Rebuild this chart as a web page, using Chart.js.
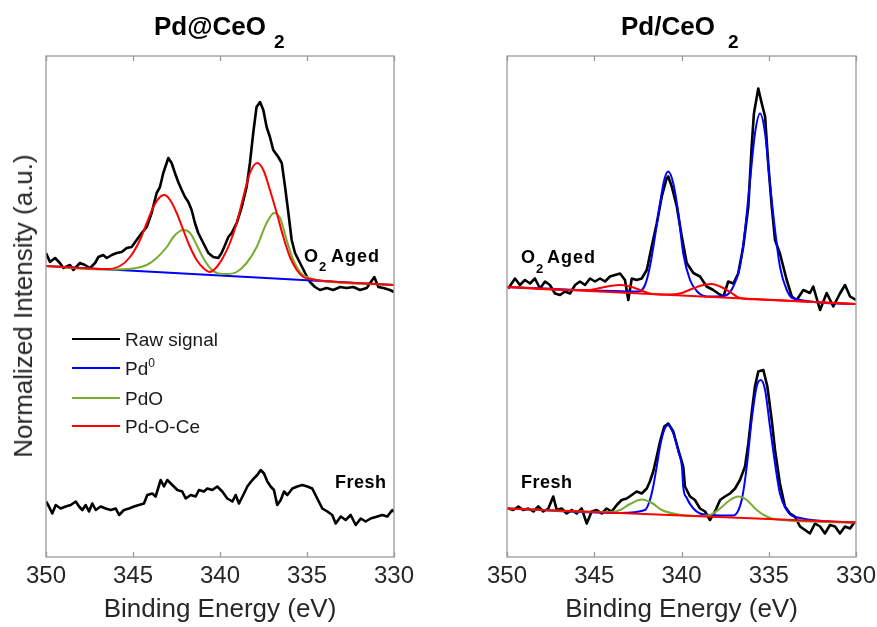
<!DOCTYPE html>
<html><head><meta charset="utf-8">
<script src="https://cdn.jsdelivr.net/npm/chart.js@4.4.1/dist/chart.umd.min.js"></script>
<style>
body{margin:0;background:#fff;width:877px;height:627px;position:relative;overflow:hidden;font-family:"Liberation Sans",Arial,sans-serif;}
canvas{position:absolute;top:0;}
.t{position:absolute;white-space:nowrap;line-height:1;color:#000;}
.b{font-weight:bold;}
.lg{position:absolute;left:72px;width:48px;height:2.5px;}
</style></head><body>
<canvas id="cl" width="440" height="627" style="left:0"></canvas>
<canvas id="cr" width="437" height="627" style="left:440px"></canvas>

<div class="t b" style="left:154px;top:13px;font-size:26px">Pd@CeO</div>
<div class="t b" style="left:274px;top:32px;font-size:19px">2</div>
<div class="t b" style="left:621px;top:13px;font-size:26px">Pd/CeO</div>
<div class="t b" style="left:728px;top:32px;font-size:19px">2</div>

<div class="t" style="left:23px;top:306px;font-size:26px;color:#262626;transform:translate(-50%,-50%) rotate(-90deg)">Normalized Intensity (a.u.)</div>

<div class="t b" style="left:304px;top:247px;font-size:18px">O</div>
<div class="t b" style="left:319px;top:260px;font-size:13px">2</div>
<div class="t b" style="left:331px;top:247px;font-size:18px;letter-spacing:1px">Aged</div>
<div class="t b" style="left:521px;top:248px;font-size:18px">O</div>
<div class="t b" style="left:536px;top:262px;font-size:13px">2</div>
<div class="t b" style="left:547px;top:248px;font-size:18px;letter-spacing:1px">Aged</div>
<div class="t b" style="left:335px;top:473px;font-size:18px;letter-spacing:0.5px">Fresh</div>
<div class="t b" style="left:521px;top:473px;font-size:18px;letter-spacing:0.5px">Fresh</div>

<div class="lg" style="top:337.75px;background:#000"></div>
<div class="lg" style="top:367px;height:2px;background:#0000ff"></div>
<div class="lg" style="top:397px;height:2px;background:#77ac30"></div>
<div class="lg" style="top:425px;height:2px;background:#ff0000"></div>
<div class="t" style="left:125px;top:330px;font-size:19px;color:#1a1a1a">Raw signal</div>
<div class="t" style="left:125px;top:359px;font-size:19px;color:#1a1a1a">Pd<span style="font-size:12px;position:relative;top:-8px">0</span></div>
<div class="t" style="left:125px;top:389px;font-size:19px;color:#1a1a1a">PdO</div>
<div class="t" style="left:125px;top:417px;font-size:19px;color:#1a1a1a">Pd-O-Ce</div>

<script>
// ---- axis ticks ----
const tickValues = [350, 345, 340, 335, 330];
const xTitle = 'Binding Energy (eV)';

// ---- Pd@CeO2 (left) : [binding energy eV, intensity a.u.] ----
const leftAgedRaw = [[350.00,60.8],[349.77,59.0],[349.48,59.8],[349.20,58.8],[349.00,57.8],[348.62,58.4],[348.43,57.4],[348.05,58.8],[347.76,58.4],[347.47,57.8],[347.18,58.8],[346.99,60.0],[346.71,60.4],[346.51,59.8],[346.22,60.4],[345.94,60.8],[345.65,61.0],[345.36,61.8],[345.08,62.0],[344.79,63.4],[344.50,64.8],[344.21,66.0],[343.93,68.8],[343.64,72.8],[343.45,74.0],[343.26,76.8],[342.97,79.8],[342.78,78.8],[342.59,76.8],[342.40,75.0],[342.20,73.4],[342.01,72.0],[341.82,71.0],[341.63,69.4],[341.44,66.8],[341.25,64.8],[340.96,62.8],[340.67,60.8],[340.39,60.0],[340.10,59.8],[339.91,60.8],[339.71,62.4],[339.52,64.0],[339.33,64.8],[339.04,66.8],[338.75,70.0],[338.47,74.0],[338.28,78.8],[338.09,84.8],[337.90,90.0],[337.70,91.0],[337.51,89.4],[337.32,86.0],[337.13,84.0],[336.94,81.4],[336.65,80.0],[336.45,78.8],[336.26,74.0],[336.07,68.8],[335.88,63.4],[335.69,60.8],[335.40,58.8],[335.11,56.8],[334.83,55.0],[334.54,54.0],[334.25,53.4],[333.87,53.8],[333.49,53.4],[333.10,54.0],[332.72,53.8],[332.34,54.0],[331.95,53.4],[331.57,53.8],[331.13,56.0],[330.90,54.0],[330.61,53.8],[330.23,53.4],[330.00,53.0]];
const leftAgedPd0 = [[350.00,58.2],[340.00,56.3],[330.00,54.4]];
const leftAgedPdO = [[350.00,58.2],[346.51,57.5],[344.98,57.7],[344.21,58.4],[343.64,59.8],[343.06,62.0],[342.68,64.0],[342.30,65.2],[342.07,65.4],[341.72,64.8],[341.34,62.4],[340.96,59.8],[340.57,57.8],[340.19,56.8],[339.61,56.6],[339.04,57.0],[338.47,58.8],[337.89,62.0],[337.32,66.8],[336.88,68.8],[336.55,67.8],[336.17,63.4],[335.79,59.4],[335.40,57.0],[335.02,56.0],[334.44,55.4],[330.00,54.4]];
const leftAgedPdOCe = [[350.00,58.2],[346.51,57.6],[345.75,58.2],[345.17,60.0],[344.60,63.4],[344.21,66.8],[343.83,70.0],[343.45,72.0],[343.20,72.4],[342.87,71.4],[342.49,68.8],[342.11,65.4],[341.72,62.0],[341.34,59.4],[340.96,57.8],[340.57,57.0],[340.19,58.0],[339.81,60.0],[339.43,62.8],[339.04,66.8],[338.66,72.0],[338.28,76.8],[337.86,78.8],[337.51,77.4],[337.13,73.4],[336.74,68.8],[336.36,64.0],[335.98,60.0],[335.59,57.4],[335.21,56.0],[334.83,55.6],[334.25,55.3],[330.00,54.4]];
const leftFreshRaw = [[350.00,11.1],[349.83,10.1],[349.64,8.7],[349.44,10.4],[349.16,9.7],[348.87,10.1],[348.58,10.4],[348.29,11.1],[348.10,10.1],[347.91,9.4],[347.72,10.4],[347.53,9.1],[347.34,10.7],[347.14,9.4],[346.86,10.1],[346.57,9.7],[346.28,9.4],[345.99,9.7],[345.80,8.4],[345.52,9.4],[345.23,9.7],[344.94,10.1],[344.66,10.4],[344.37,10.7],[344.18,12.4],[343.89,12.7],[343.70,12.1],[343.41,15.4],[343.22,14.1],[343.03,15.4],[342.74,14.4],[342.45,13.4],[342.17,13.1],[341.97,11.7],[341.68,12.4],[341.40,12.1],[341.21,13.4],[340.92,13.1],[340.73,13.7],[340.44,13.4],[340.16,14.1],[339.87,13.1],[339.58,11.7],[339.29,11.1],[339.10,12.4],[338.91,10.7],[338.62,12.7],[338.43,14.1],[338.14,15.4],[337.86,16.4],[337.66,17.4],[337.47,16.7],[337.28,15.1],[337.09,14.1],[336.90,13.4],[336.71,10.4],[336.51,11.4],[336.32,13.1],[336.13,12.4],[335.84,13.7],[335.56,14.1],[335.27,14.4],[334.98,14.1],[334.70,13.7],[334.41,11.7],[334.12,9.7],[333.83,9.1],[333.55,8.4],[333.35,6.7],[333.06,8.1],[332.78,7.4],[332.49,8.4],[332.20,6.4],[331.91,7.7],[331.63,7.1],[331.34,7.7],[330.96,8.1],[330.67,8.4],[330.38,8.1],[330.10,9.4],[330.00,9.0]];

// ---- Pd/CeO2 (right) ----
const rightAgedRaw = [[349.93,53.7],[349.54,55.7],[349.26,54.4],[348.97,55.4],[348.68,54.7],[348.40,55.7],[348.11,53.7],[347.82,55.1],[347.54,54.4],[347.25,52.7],[346.96,52.4],[346.68,53.1],[346.39,52.7],[346.10,54.4],[345.82,55.1],[345.53,54.4],[345.24,55.7],[344.96,55.1],[344.67,55.7],[344.38,55.1],[344.10,56.1],[343.81,56.4],[343.52,56.7],[343.24,55.4],[343.05,51.4],[342.85,55.7],[342.57,55.4],[342.28,55.7],[341.99,57.4],[341.71,62.1],[341.42,66.7],[341.13,72.1],[340.85,75.7],[340.76,76.1],[340.56,74.1],[340.27,70.1],[339.99,64.2],[339.70,58.8],[339.32,56.8],[338.94,56.1],[338.56,54.1],[338.18,53.4],[337.89,52.7],[337.60,52.1],[337.32,55.1],[337.03,54.7],[336.75,56.7],[336.46,62.1],[336.17,70.1],[335.98,82.1],[335.85,88.7],[335.60,93.7],[335.40,90.7],[335.21,88.1],[335.03,78.7],[334.83,70.1],[334.64,63.4],[334.36,60.7],[333.97,55.4],[333.68,52.1],[333.40,51.4],[333.02,53.4],[332.64,52.8],[332.45,54.1],[332.06,49.4],[331.68,52.8],[331.30,50.1],[330.92,52.7],[330.63,54.4],[330.34,52.1],[330.00,51.4]];
const rightAgedPd0 = [[350.00,54.0],[342.48,53.1],[342.09,54.4],[341.81,58.1],[341.52,64.1],[341.23,70.7],[340.99,75.4],[340.76,77.1],[340.47,74.7],[340.18,68.7],[339.90,60.7],[339.51,55.4],[339.13,53.2],[338.56,52.1],[337.98,52.1],[337.41,52.4],[337.03,54.1],[336.65,58.1],[336.36,65.4],[336.07,75.4],[335.79,84.7],[335.50,88.7],[335.21,84.7],[334.93,74.7],[334.64,65.4],[334.36,58.1],[333.97,53.4],[333.59,51.7],[330.00,50.6]];
const rightAgedPdOCe = [[350.00,54.0],[346.39,53.4],[345.24,53.4],[344.67,53.8],[344.10,54.2],[343.52,54.4],[342.95,54.1],[342.38,53.4],[341.81,52.7],[340.95,52.5],[340.09,52.7],[339.34,53.7],[338.65,54.5],[338.25,54.6],[337.79,54.1],[337.22,53.0],[336.65,51.8],[335.50,51.5],[330.00,50.6]];
const rightAgedBaseline = [[350.00,54.0],[330.00,50.6]];
const rightFreshRaw = [[349.93,9.7],[349.64,9.4],[349.35,10.1],[349.07,9.4],[348.78,9.7],[348.49,9.1],[348.21,10.1],[347.92,9.1],[347.63,9.7],[347.35,12.1],[347.15,9.4],[346.87,9.7],[346.58,8.7],[346.29,9.4],[346.01,8.7],[345.72,9.7],[345.43,6.7],[345.15,9.1],[344.86,9.4],[344.57,8.7],[344.29,9.7],[344.00,9.1],[343.71,10.4],[343.43,11.4],[343.14,11.7],[342.85,12.4],[342.57,13.1],[342.28,12.7],[341.99,13.7],[341.81,15.1],[341.62,17.1],[341.42,20.1],[341.23,23.1],[340.99,26.1],[340.76,26.7],[340.47,25.1],[340.18,21.4],[339.90,18.1],[339.80,14.1],[339.51,12.1],[339.23,11.4],[338.94,9.7],[338.65,9.1],[338.37,7.4],[338.08,9.1],[337.79,11.4],[337.51,12.1],[337.22,12.7],[336.93,13.7],[336.65,15.4],[336.36,18.1],[336.17,22.7],[335.98,28.7],[335.79,34.1],[335.60,37.1],[335.31,37.4],[335.08,34.1],[334.83,27.4],[334.64,21.4],[334.36,14.7],[334.07,10.1],[333.78,8.7],[333.50,8.1],[333.21,6.1],[332.92,5.4],[332.64,4.7],[332.35,6.7],[332.06,6.1],[331.78,4.7],[331.49,6.4],[331.20,6.1],[330.92,4.7],[330.63,6.1],[330.34,5.7],[330.06,7.1]];
const rightFreshPd0 = [[350.00,9.7],[343.52,8.8],[342.09,9.4],[341.81,11.4],[341.62,14.1],[341.42,18.1],[341.23,22.1],[340.99,25.4],[340.76,26.4],[340.47,24.7],[340.18,21.1],[339.97,17.8],[339.90,14.0],[339.70,11.8],[339.32,9.7],[338.94,8.7],[338.37,8.4],[337.79,8.3],[337.04,8.3],[336.55,11.4],[336.26,18.1],[335.98,27.4],[335.69,34.1],[335.46,35.4],[335.21,33.4],[334.93,26.1],[334.64,18.7],[334.36,12.7],[333.97,9.4],[333.59,8.1],[330.00,6.9]];
const rightFreshPdO = [[350.00,9.7],[344.00,9.0],[343.52,9.4],[342.95,10.6],[342.28,11.5],[341.69,10.8],[341.13,9.4],[340.18,8.5],[338.94,8.2],[338.37,8.4],[337.79,9.7],[337.22,11.4],[336.75,12.1],[336.26,11.4],[335.69,9.4],[335.12,8.1],[334.54,7.5],[330.00,6.9]];
const rightFreshBaseline = [[350.00,9.7],[330.00,6.9]];

const colors = {raw:'#000000', pd0:'#0000ff', pdo:'#77ac30', pdoce:'#ff0000'};

function ds(pts, color, width, smooth, order){
  return {data: pts.map(p => ({x:p[0], y:p[1]})), borderColor: color, borderWidth: width,
    pointRadius: 0, fill: false, tension: 0, borderJoinStyle: 'round',
    cubicInterpolationMode: smooth ? 'monotone' : 'default', order: order};
}

const boxPlugin = {
  id: 'box',
  afterDatasetsDraw(chart){
    const {ctx, chartArea: a, scales: {x}} = chart;
    ctx.save();
    ctx.strokeStyle = '#9a9a9a';
    ctx.lineWidth = 1.3;
    ctx.strokeRect(a.left, a.top, a.right - a.left, a.bottom - a.top);
    tickValues.forEach(v => {
      const px = Math.round(x.getPixelForValue(v)) + 0.5;
      ctx.beginPath();
      ctx.moveTo(px, a.top); ctx.lineTo(px, a.top + 5);
      ctx.moveTo(px, a.bottom); ctx.lineTo(px, a.bottom - 5);
      ctx.stroke();
    });
    ctx.restore();
  }
};

function makeChart(id, datasets, padL, padR){
  return new Chart(document.getElementById(id), {
    type: 'line',
    data: {datasets},
    options: {
      responsive: false, animation: false, events: [],
      layout: {padding: {left: padL, right: padR, top: 56, bottom: 0}},
      plugins: {legend: {display: false}, tooltip: {enabled: false}, title: {display: false}},
      scales: {
        x: {
          type: 'linear', reverse: true, min: 330, max: 350,
          afterBuildTicks: s => { s.ticks = tickValues.map(v => ({value: v})); },
          afterFit: s => { s.height = 70; s.paddingLeft = 0; s.paddingRight = 0; },
          grid: {display: false, drawTicks: false},
          border: {display: false},
          ticks: {font: {family: 'Liberation Sans', size: 24}, color: '#262626', padding: 5,
                  maxRotation: 0, autoSkip: false, callback: v => String(v)},
          title: {display: true, text: xTitle, color: '#262626',
                  font: {family: 'Liberation Sans', size: 26}, padding: {top: 0, bottom: 2}}
        },
        y: {display: false, min: 0, max: 100.2}
      }
    },
    plugins: [boxPlugin]
  });
}

makeChart('cl', [
  ds(leftAgedRaw, colors.raw, 2.6, false, 10),
  ds(leftFreshRaw, colors.raw, 2.6, false, 10),
  ds(leftAgedPd0, colors.pd0, 2, false, 8),
  ds(leftAgedPdO, colors.pdo, 2, true, 6),
  ds(leftAgedPdOCe, colors.pdoce, 2, true, 4)
], 46, 46);

makeChart('cr', [
  ds(rightAgedRaw, colors.raw, 2.6, false, 10),
  ds(rightFreshRaw, colors.raw, 2.6, false, 10),
  ds(rightAgedPd0, colors.pd0, 2, true, 8),
  ds(rightFreshPd0, colors.pd0, 2, true, 8),
  ds(rightFreshPdO, colors.pdo, 2, true, 6),
  ds(rightAgedPdOCe, colors.pdoce, 2, true, 4),
  ds(rightAgedBaseline, colors.pdoce, 2, false, 4),
  ds(rightFreshBaseline, colors.pdoce, 2, false, 4)
], 67, 21);
</script>
</body></html>
